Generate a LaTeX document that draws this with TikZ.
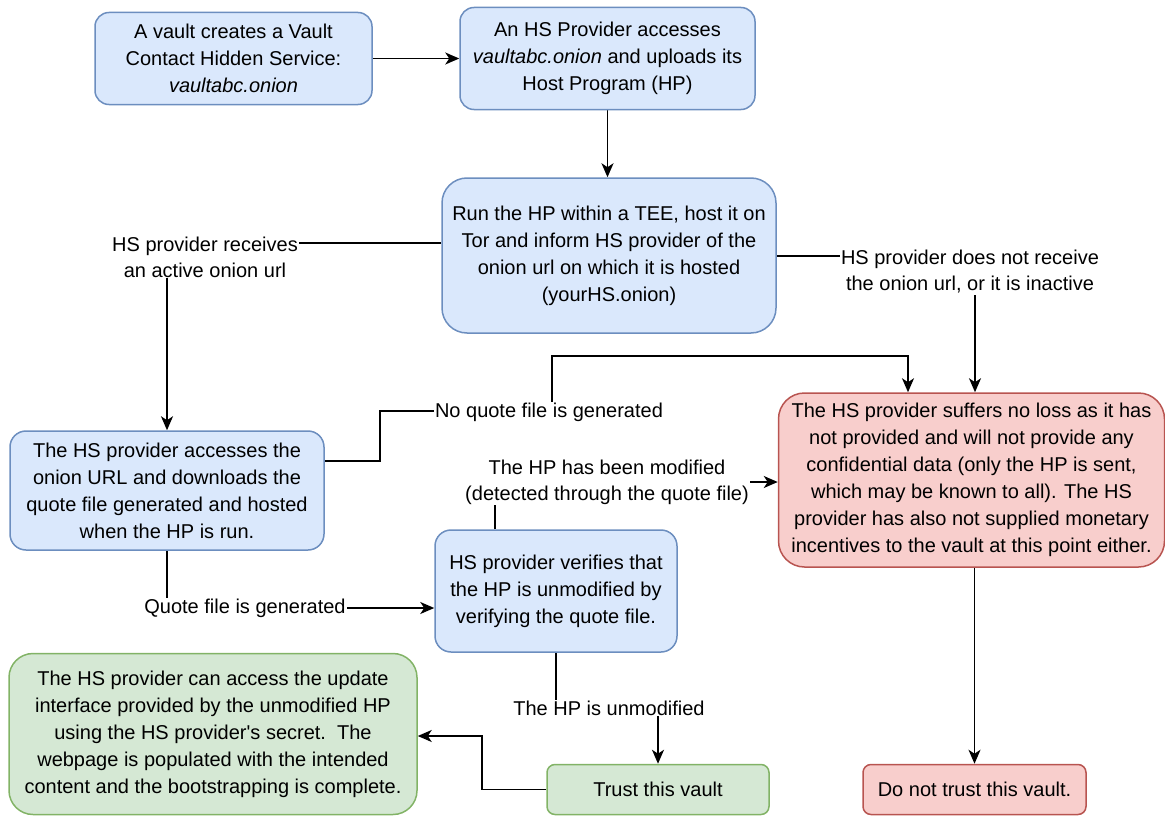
\documentclass[tikz,border=0pt]{standalone}
\usepackage{fontspec}
\setmainfont{Liberation Sans}
\usetikzlibrary{arrows.meta,positioning,calc}

\definecolor{blfill}{HTML}{DAE8FC}
\definecolor{blline}{HTML}{6C8EBF}
\definecolor{rdfill}{HTML}{F8CECC}
\definecolor{rdline}{HTML}{B85450}
\definecolor{grfill}{HTML}{D5E8D4}
\definecolor{grline}{HTML}{82B366}

\pgfdeclarelayer{bg}
\pgfsetlayers{bg,main}

\tikzset{
  box/.style={draw, line width=1.5pt, align=center, inner sep=0pt,
    font=\fontsize{20}{27}\selectfont},
  bluebox/.style={box, fill=blfill, draw=blline},
  redbox/.style={box, fill=rdfill, draw=rdline},
  greenbox/.style={box, fill=grfill, draw=grline},
  lbl/.style={fill=white, align=center, inner sep=1pt,
    font=\fontsize{20}{26}\selectfont},
  conn/.style={line width=1.8pt, -{Stealth[length=14pt,width=12pt,inset=4pt]}}
}

\begin{document}
\begin{tikzpicture}[x=1pt,y=-1pt]
  \useasboundingbox (0,0) rectangle (1165,816);

  % top row
  \node[bluebox, minimum width=277, minimum height=92, rounded corners=14pt] (vault) at (233.5,58.5)
    {A vault creates a Vault\\Contact Hidden Service:\\\textit{vaultabc.onion}};
  \node[bluebox, minimum width=295, minimum height=102, rounded corners=14pt] (hp) at (607.5,58.5)
    {An HS Provider accesses\\\textit{vaultabc.onion} and uploads its\\Host Program (HP)};

  % run the HP
  \node[bluebox, minimum width=334, minimum height=155, rounded corners=25pt] (run) at (609,255.5)
    {Run the HP within a TEE, host it on\\Tor and inform HS provider of the\\onion url on which it is hosted\\(yourHS.onion)};

  % middle row
  \node[bluebox, minimum width=314, minimum height=119, rounded corners=16pt] (dl) at (167,490.5)
    {The HS provider accesses the\\onion URL and downloads the\\quote file generated and hosted\\when the HP is run.};
  \node[bluebox, minimum width=242, minimum height=122, rounded corners=16pt] (ver) at (556,591)
    {HS provider verifies that\\the HP is unmodified by\\verifying the quote file.};
  \node[redbox, minimum width=386, minimum height=174, rounded corners=26pt] (loss) at (971.5,480)
    {The HS provider suffers no loss as it has\\not provided and will not provide any\\confidential data (only the HP is sent,\\which may be known to all). The HS\\provider has also not supplied monetary\\incentives to the vault at this point either.};

  % bottom row
  \node[greenbox, minimum width=408, minimum height=161, rounded corners=24pt] (upd) at (213,734)
    {The HS provider can access the update\\interface provided by the unmodified HP\\using the HS provider\textquotesingle s secret.\ \ The\\webpage is populated with the intended\\content and the bootstrapping is complete.};
  \node[greenbox, minimum width=222, minimum height=50, rounded corners=8pt] (trust) at (658,789.5)
    {Trust this vault};
  \node[redbox, minimum width=223, minimum height=50, rounded corners=8pt] (nt) at (974.5,789.5)
    {Do not trust this vault.};

  % edge labels
  \node[lbl] (lrecv) at (205,257) {HS provider receives\\an active onion url};
  \node[lbl] (lnorecv) at (970,272) {HS provider does not receive\\the onion url, or it is inactive};
  \node[lbl] (lnoq) at (549,412) {No quote file is generated};
  \node[lbl] (lquote) at (245,608) {Quote file is generated};
  \node[lbl] (lmod) at (607,482) {The HP has been modified\\(detected through the quote file)};
  \node[lbl] (lunmod) at (609,708) {The HP is unmodified};

  % bend points
  \coordinate (brecv) at (167,243);
  \coordinate (bnorecv) at (975,256);
  \coordinate (bmod) at (495,482);
  \coordinate (bunmod) at (556,708);
  \coordinate (bquote) at (167,608);
  \coordinate (btrust) at (482,736);

  \begin{pgfonlayer}{bg}
    % straight ones
    \draw[conn] (vault.east) -- (vault.east -| hp.west);
    \draw[conn] (hp.south) -- (hp.south |- run.north);
    \draw[conn] (nt.north |- loss.south) -- (nt.north);

    % out of the TEE box
    \draw[conn] (run.west |- brecv) -- (brecv) -- (dl.north);
    \draw[conn] (run.east |- bnorecv) -- (bnorecv) -- (loss.north -| bnorecv);

    % no quote file, round the top
    \draw[conn] (dl.east |- 380,461) -- (380,461) -- (380,411) -- (552,411) -- (552,356)
      -- (908,356) -- (loss.north -| 908,0);

    % quote file
    \draw[conn] (dl.south) -- (bquote) -- (ver.west |- bquote);
    \draw[conn] (ver.north -| bmod) -- (bmod) -- (loss.west |- bmod);
    \draw[conn] (ver.south) -- (bunmod) -- (trust.north |- bunmod) -- (trust.north);

    % trust to update
    \draw[conn] (trust.west) -- (trust.west -| btrust) -- (btrust) -- (upd.east |- btrust);
  \end{pgfonlayer}
\end{tikzpicture}
\end{document}
